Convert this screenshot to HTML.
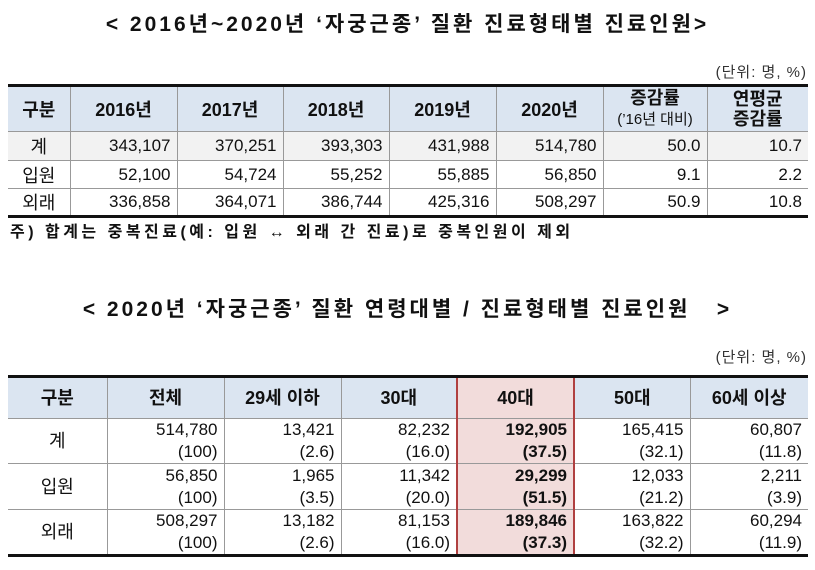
<!DOCTYPE html>
<html><head><meta charset="utf-8"><style>
body{margin:0;width:815px;height:570px;background:#fff;position:relative;overflow:hidden;font-family:"Liberation Sans","Noto Sans CJK KR",sans-serif;color:#111}
.t{position:absolute;left:0;width:815px;text-align:center;font-weight:bold;font-size:21px;letter-spacing:3px}
.u{position:absolute;right:8px;font-size:15px;color:#333;letter-spacing:1px}
table{position:absolute;left:8px;border-collapse:collapse;table-layout:fixed;font-size:17px}
td{border:1px solid #999;padding:0 6px;text-align:right;white-space:nowrap}
tr:first-child td{border-top:3px solid #111}
tr:last-child td{border-bottom:3px solid #111}
td:first-child{border-left:none}td:last-child{border-right:none}
.h td{background:#dbe5f1;font-weight:bold;text-align:center;font-size:18px}
td.c{text-align:center;font-size:18px}
.g td{background:#f2f2f2}
.hl{background:#f2dcdb!important;border-left:2px solid #b04040;border-right:2px solid #b04040;font-weight:bold}
.note{position:absolute;left:10px;top:218px;font-size:16px;font-weight:bold;letter-spacing:3.5px}
</style></head><body>
<div class="t" style="top:8px">&lt; 2016년~2020년 ‘자궁근종’ 질환 진료형태별 진료인원&gt;</div>
<div class="u" style="top:61px">(단위: 명, %)</div>
<table style="top:84px;width:800px">
<colgroup><col style="width:62px"><col style="width:107px"><col style="width:106px"><col style="width:106px"><col style="width:107px"><col style="width:107px"><col style="width:104px"><col style="width:101px"></colgroup>
<tr class="h" style="height:46px"><td>구분</td><td>2016년</td><td>2017년</td><td>2018년</td><td>2019년</td><td>2020년</td><td style="line-height:20px">증감률<br><span style="font-weight:normal;font-size:15px">(’16년 대비)</span></td><td style="line-height:20px">연평균<br>증감률</td></tr>
<tr class="g" style="height:29px"><td class="c">계</td><td>343,107</td><td>370,251</td><td>393,303</td><td>431,988</td><td>514,780</td><td>50.0</td><td>10.7</td></tr>
<tr style="height:28px"><td class="c">입원</td><td>52,100</td><td>54,724</td><td>55,252</td><td>55,885</td><td>56,850</td><td>9.1</td><td>2.2</td></tr>
<tr style="height:28px"><td class="c">외래</td><td>336,858</td><td>364,071</td><td>386,744</td><td>425,316</td><td>508,297</td><td>50.9</td><td>10.8</td></tr>
</table>
<div class="note">주) 합계는 중복진료(예: 입원 ↔ 외래 간 진료)로 중복인원이 제외</div>
<div class="t" style="top:293px">&lt; 2020년 ‘자궁근종’ 질환 연령대별 / 진료형태별 진료인원 &nbsp;&nbsp;&gt;</div>
<div class="u" style="top:346px">(단위: 명, %)</div>
<table style="top:375px;width:800px;line-height:22px">
<colgroup><col style="width:99px"><col style="width:117px"><col style="width:117px"><col style="width:116px"><col style="width:117px"><col style="width:116px"><col style="width:118px"></colgroup>
<tr class="h" style="height:42px"><td>구분</td><td>전체</td><td>29세 이하</td><td>30대</td><td class="hl" style="border-top:3px solid #111">40대</td><td>50대</td><td>60세 이상</td></tr>
<tr style="height:45px"><td class="c">계</td><td>514,780<br>(100)</td><td>13,421<br>(2.6)</td><td>82,232<br>(16.0)</td><td class="hl">192,905<br>(37.5)</td><td>165,415<br>(32.1)</td><td>60,807<br>(11.8)</td></tr>
<tr style="height:46px"><td class="c">입원</td><td>56,850<br>(100)</td><td>1,965<br>(3.5)</td><td>11,342<br>(20.0)</td><td class="hl">29,299<br>(51.5)</td><td>12,033<br>(21.2)</td><td>2,211<br>(3.9)</td></tr>
<tr style="height:46px"><td class="c">외래</td><td>508,297<br>(100)</td><td>13,182<br>(2.6)</td><td>81,153<br>(16.0)</td><td class="hl" style="border-bottom:3px solid #111">189,846<br>(37.3)</td><td>163,822<br>(32.2)</td><td>60,294<br>(11.9)</td></tr>
</table>
</body></html>
